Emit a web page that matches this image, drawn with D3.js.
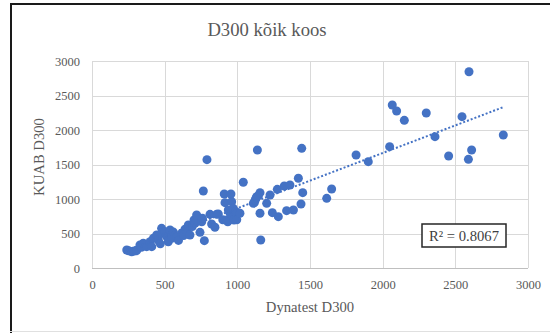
<!DOCTYPE html>
<html>
<head>
<meta charset="utf-8">
<script src="https://cdn.jsdelivr.net/npm/d3@7"></script>
<style>
  html, body { margin: 0; padding: 0; background: #fff; }
  svg { display: block; }
  text { font-family: "Liberation Serif", "Times New Roman", serif; }
</style>
</head>
<body>
<svg id="chart" width="550" height="333"></svg>
<script>
// Dynatest D300 measurements (x) against KUAB D300 measurements (y)
const dynatest = [
  239, 252, 273, 290, 307, 330, 340, 353, 376, 399, 411, 422, 445, 456, 470,
  479, 479, 502, 514, 525, 537, 548, 548, 560, 583, 595, 617, 630, 640, 655,
  663, 674, 690, 702, 710, 720, 743, 755, 760, 766, 773, 791, 812, 823, 846,
  858, 869, 900, 910, 915, 927, 934, 938, 950, 956, 961, 972, 972, 977, 991,
  996, 1018, 1041,
  1110, 1117, 1122, 1128, 1133, 1138, 1145, 1156, 1156, 1161, 1202, 1225, 1241,
  1275, 1282, 1323, 1339, 1362, 1386, 1420, 1438, 1443, 1450,
  1615, 1649, 1817, 1901, 2048, 2066, 2096, 2149, 2300, 2360, 2454, 2546, 2590,
  2594, 2612, 2830
];
const kuab = [
  261, 250, 236, 245, 251, 333, 300, 358, 309, 381, 309, 430, 478, 406, 350,
  575, 503, 526, 454, 381, 551, 478, 430, 520, 454, 400, 503, 470, 561, 520,
  623, 478, 600, 696, 650, 768, 517, 671, 720, 1116, 396, 1570, 778, 638, 590,
  778, 783, 700, 1072, 947, 696, 671, 841, 793, 1072, 961, 865, 744, 696, 816,
  700, 793, 1242,
  937, 947, 980, 1010, 1034, 1710, 1048, 1092, 793, 406, 937, 1058, 802,
  1140, 744, 1188, 831, 1203, 841, 1300, 928, 1734, 1092,
  1010, 1145, 1638, 1541, 1759, 2362, 2275, 2140, 2246, 1903, 1623, 2193, 1575,
  2845, 1710, 1928
];
const xTicks = [0, 500, 1000, 1500, 2000, 2500, 3000];
const yTicks = [0, 500, 1000, 1500, 2000, 2500, 3000];
const rSquaredLabel = "R² = 0.8067";

const svg = d3.select("#chart");
const plot = { left: 92, right: 528, top: 61, bottom: 268 };

const x = d3.scaleLinear().domain([0, 3000]).range([plot.left, plot.right]);
const y = d3.scaleLinear().domain([0, 3000]).range([plot.bottom, plot.top]);

// outer frame
svg.append("line").attr("x1", 10).attr("x2", 550).attr("y1", 4).attr("y2", 4)
  .attr("stroke", "#1a1a1a").attr("stroke-width", 2);
svg.append("line").attr("x1", 11).attr("x2", 11).attr("y1", 3).attr("y2", 333)
  .attr("stroke", "#1a1a1a").attr("stroke-width", 2);
svg.append("line").attr("x1", 10).attr("x2", 550).attr("y1", 331.5).attr("y2", 331.5)
  .attr("stroke", "#e0e0e0").attr("stroke-width", 1);

// title
svg.append("text").attr("x", 267).attr("y", 36).attr("text-anchor", "middle")
  .attr("font-size", 18.67).attr("fill", "#595959").text("D300 kõik koos");

// grid lines
const grid = svg.append("g");
grid.selectAll(".gx").data(xTicks).join("line")
  .attr("x1", d => Math.round(x(d)) + 0.5).attr("x2", d => Math.round(x(d)) + 0.5)
  .attr("y1", plot.top).attr("y2", plot.bottom)
  .attr("stroke", "#d9d9d9").attr("stroke-width", 1);
grid.selectAll(".gy").data(yTicks).join("line")
  .attr("x1", plot.left).attr("x2", plot.right)
  .attr("y1", d => Math.round(y(d)) + 0.5).attr("y2", d => Math.round(y(d)) + 0.5)
  .attr("stroke", d => d === 0 ? "#bfbfbf" : "#d9d9d9").attr("stroke-width", 1);

// axes (labels only, lines drawn by the grid)
const xAxis = svg.append("g").attr("transform", `translate(0,${plot.bottom})`)
  .call(d3.axisBottom(x).tickValues(xTicks).tickSize(0).tickPadding(12).tickFormat(d3.format("d")));
const yAxis = svg.append("g").attr("transform", `translate(${plot.left},0)`)
  .call(d3.axisLeft(y).tickValues(yTicks).tickSize(0).tickPadding(12).tickFormat(d3.format("d")));
[xAxis, yAxis].forEach(a => {
  a.select(".domain").remove();
  a.selectAll("text").attr("font-family", "'Liberation Serif', 'Times New Roman', serif")
    .attr("font-size", 12.5).attr("fill", "#595959");
});

// axis titles
svg.append("text").attr("x", 310).attr("y", 312).attr("text-anchor", "middle")
  .attr("font-size", 14.67).attr("fill", "#595959").text("Dynatest D300");
svg.append("text").attr("transform", "translate(44,157) rotate(-90)")
  .attr("text-anchor", "middle").attr("font-size", 14.67).attr("fill", "#595959")
  .text("KUAB D300");

// points
const pts = dynatest.map((d, i) => ({ x: d, y: kuab[i] }));
svg.append("g").selectAll("circle").data(pts).join("circle")
  .attr("cx", d => x(d.x)).attr("cy", d => y(d.y)).attr("r", 4.5)
  .attr("fill", "#4472c4");

// least-squares linear trend over the data range
const mx = d3.mean(dynatest), my = d3.mean(kuab);
const sxy = d3.sum(pts, d => (d.x - mx) * (d.y - my));
const sxx = d3.sum(pts, d => (d.x - mx) ** 2);
const slope = sxy / sxx, intercept = my - slope * mx;
const [xmin, xmax] = d3.extent(dynatest);
svg.append("line")
  .attr("x1", x(xmin)).attr("y1", y(slope * xmin + intercept))
  .attr("x2", x(xmax)).attr("y2", y(slope * xmax + intercept))
  .attr("stroke", "#4472c4").attr("stroke-width", 2)
  .attr("stroke-dasharray", "2,2");

// R² label
const box = svg.append("g").attr("transform", "translate(422,224)");
box.append("rect").attr("width", 84).attr("height", 23)
  .attr("fill", "#fff").attr("stroke", "#262626").attr("stroke-width", 1.5);
box.append("text").attr("x", 42).attr("y", 17).attr("text-anchor", "middle")
  .attr("font-size", 14.67).attr("fill", "#404040").text(rSquaredLabel);
</script>
</body>
</html>
